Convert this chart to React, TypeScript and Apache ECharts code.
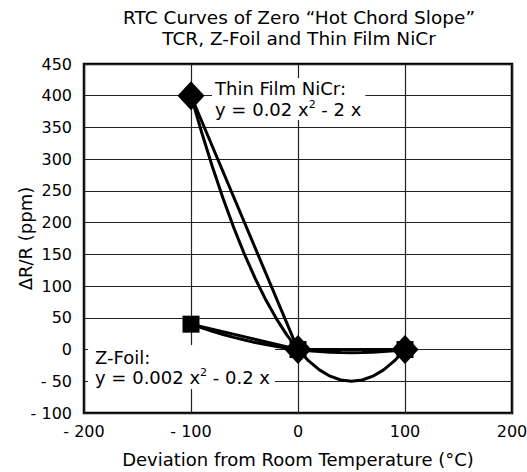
import React, { useEffect, useRef } from "react";
import * as echarts from "echarts";

const titleLines = ["RTC Curves of Zero “Hot Chord Slope”", "TCR, Z-Foil and Thin Film NiCr"];
const xAxisName = "Deviation from Room Temperature (°C)";
const yAxisName = "ΔR/R (ppm)";

// chord points (markers)
const chordX = [-100, 0, 100];
const nicrChord = [400, 0, 0];
const zfoilChord = [40, 0, 0];

// curve points read along the parabolas
const curveX = [-100, -90, -80, -70, -60, -50, -40, -30, -20, -10, 0, 10, 20, 30, 40, 50, 60, 70, 80, 90, 100];
const nicrCurve = [400, 342, 288, 238, 192, 150, 112, 78, 48, 22, 0, -18, -32, -42, -48, -50, -48, -42, -32, -18, 0];
const zfoilCurve = [40, 34.2, 28.8, 23.8, 19.2, 15, 11.2, 7.8, 4.8, 2.2, 0, -1.8, -3.2, -4.2, -4.8, -5, -4.8, -4.2, -3.2, -1.8, 0];

const nicrLabel = ["Thin Film NiCr:", "y = 0.02 x", "2", " - 2 x"];
const zfoilLabel = ["Z-Foil:", "y = 0.002 x", "2", " - 0.2 x"];

const FONT = "DejaVu Sans";

const fmt = (v: number) => (v < 0 ? "- " + Math.abs(v) : String(v));

export default function App() {
  const ref = useRef<HTMLDivElement>(null);
  useEffect(() => {
    document.body.style.margin = "0";
    const chart = echarts.init(ref.current!, undefined, { renderer: "svg" });
    const pair = (xs: number[], ys: number[]) => xs.map((x, i) => [x, ys[i]]);
    const lineStyle = { color: "#000", width: 3 };
    const rich = {
      a: { fontFamily: FONT, fontSize: 18, lineHeight: 21, color: "#000" },
      s: { fontFamily: FONT, fontSize: 11, lineHeight: 14, verticalAlign: "top", color: "#000" },
    };
    chart.setOption({
      animation: false,
      backgroundColor: "#fff",
      title: {
        text: titleLines.join("\n"),
        left: 299,
        top: 7,
        padding: 0,
        textAlign: "center",
        textStyle: { fontFamily: FONT, fontSize: 18.5, lineHeight: 21, fontWeight: "normal", color: "#000" },
      },
      grid: {
        left: 84,
        right: 15,
        top: 64,
        bottom: 59,
        show: true,
        borderColor: "#000",
        borderWidth: 2.5,
        containLabel: false,
        outerBoundsMode: "none",
      },
      xAxis: {
        type: "value",
        min: -200,
        max: 200,
        interval: 100,
        name: xAxisName,
        nameLocation: "middle",
        nameGap: 37,
        nameMoveOverlap: false,
        nameTextStyle: { fontFamily: FONT, fontSize: 18, color: "#000" },
        axisLine: { show: false },
        axisTick: { show: false },
        axisLabel: { formatter: fmt, fontFamily: FONT, fontSize: 16, color: "#000", margin: 10 },
        splitLine: { show: true, lineStyle: { color: "#222", width: 1.2 } },
      },
      yAxis: {
        type: "value",
        min: -100,
        max: 450,
        interval: 50,
        name: yAxisName,
        nameLocation: "middle",
        nameRotate: 90,
        nameGap: 50,
        nameMoveOverlap: false,
        nameTextStyle: { fontFamily: FONT, fontSize: 18, color: "#000" },
        axisLine: { show: false },
        axisTick: { show: false },
        axisLabel: { formatter: fmt, fontFamily: FONT, fontSize: 16, color: "#000", margin: 12 },
        splitLine: { show: true, lineStyle: { color: "#222", width: 1.2 } },
      },
      graphic: [
        {
          type: "text",
          left: 212,
          top: 78,
          z: 1,
          style: {
            text: `{a|${nicrLabel[0]}}\n{a|${nicrLabel[1]}}{s|${nicrLabel[2]}}{a|${nicrLabel[3]}}`,
            rich,
            backgroundColor: "#fff",
            padding: [0, 4, 0, 3],
          },
        },
        {
          type: "text",
          left: 88,
          top: 345,
          z: 1,
          style: {
            text: `{a|${zfoilLabel[0]}}\n{a|${zfoilLabel[1]}}{s|${zfoilLabel[2]}}{a|${zfoilLabel[3]}}`,
            rich: {
              a: { ...rich.a, lineHeight: 20 },
              s: rich.s,
            },
            backgroundColor: "#fff",
            padding: [2, 5, 2, 7],
          },
        },
      ],
      series: [
        {
          type: "line",
          data: pair(curveX, zfoilCurve),
          showSymbol: false,
          symbol: "none",
          lineStyle,
          z: 3,
        },
        {
          type: "line",
          data: pair(chordX, zfoilChord),
          symbol: "rect",
          symbolSize: 17,
          itemStyle: { color: "#000" },
          lineStyle,
          z: 4,
        },
        {
          type: "line",
          data: pair(curveX, nicrCurve),
          showSymbol: false,
          symbol: "none",
          lineStyle,
          z: 5,
        },
        {
          type: "line",
          data: pair(chordX, nicrChord),
          symbol: "diamond",
          symbolSize: [27, 29],
          itemStyle: { color: "#000" },
          lineStyle,
          z: 6,
        },
      ],
    });
    return () => chart.dispose();
  }, []);
  return <div ref={ref} style={{ width: 527, height: 472 }} />;
}
